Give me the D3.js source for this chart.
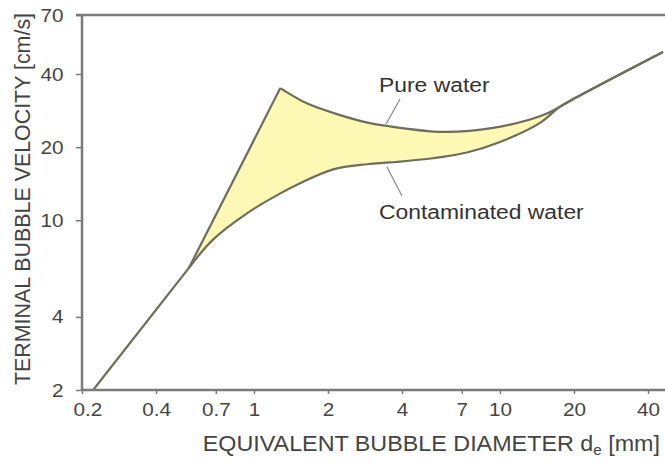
<!DOCTYPE html>
<html>
<head>
<meta charset="utf-8">
<script src="https://cdn.jsdelivr.net/npm/d3@7"></script>
<style>
  body { margin: 0; background: #fff; }
  text { font-family: "Liberation Sans", Arial, sans-serif; }
</style>
</head>
<body>
<script>
// tick values
const xTicks = [0.2, 0.4, 0.7, 1, 2, 4, 7, 10, 20, 40];
const yTicks = [2, 4, 10, 20, 40, 70];

// pure water curve (diameter mm, velocity cm/s), peak at index 2
const pureD = [0.222, 0.544, 1.28, 1.64, 2.24, 2.96, 3.41, 5.86, 9.38, 15.0, 20.6, 46.0];
const pureV = [2.0, 6.36, 35.0, 30.3, 27.1, 25.1, 24.5, 23.1, 24.0, 27.1, 32.2, 49.3];

// contaminated water curve
const contD = [0.222, 0.544, 0.68, 0.94, 1.28, 1.54, 2.10, 2.88, 3.58, 5.34, 7.34, 10.0, 14.5, 17.5, 20.6, 46.0];
const contV = [2.0, 6.36, 8.3, 10.7, 12.9, 14.2, 16.2, 17.0, 17.3, 18.0, 19.0, 21.0, 25.1, 29.3, 32.2, 49.3];

const width = 665;
const height = 465;
const mLeft = 82, mTop = 15, mBottom = 390, mRight = 665;
const sx = 1.09; // the original text is a little wide

const svg = d3.select('body')
  .append('svg')
  .attr('width', width)
  .attr('height', height);

const x = d3.scaleLog()
  .domain([0.2, 0.2 * Math.pow(10, (mRight - mLeft) / 246)])
  .range([mLeft, mRight]);

const y = d3.scaleLog()
  .domain([2, 70])
  .range([mBottom, mTop]);

const pure = pureD.map((d, i) => [x(d), y(pureV[i])]);
const cont = contD.map((d, i) => [x(d), y(contV[i])]);

// split at index 1, merge at second last point
const split = 1;
const mergeP = pure.length - 2;
const mergeC = cont.length - 2;

const smooth = d3.line().curve(d3.curveCatmullRom.alpha(0.5));
const straight = d3.line();

// yellow band between the curves
const upperPart = straight(pure.slice(split, 3)) + 'L' + smooth(pure.slice(2, mergeP + 1)).slice(1);
const lowerRev = smooth(cont.slice(split, mergeC + 1).reverse());

svg.append('path')
  .attr('d', upperPart + 'L' + lowerRev.slice(1) + 'Z')
  .attr('fill', '#fdf8b4')
  .attr('stroke', 'none');

// curve lines
const lineColor = '#6e6e5e';
svg.append('path')
  .attr('d', straight(pure.slice(0, 3)))
  .attr('fill', 'none').attr('stroke', lineColor).attr('stroke-width', 2.2);
svg.append('path')
  .attr('d', smooth(pure.slice(2)))
  .attr('fill', 'none').attr('stroke', lineColor).attr('stroke-width', 2.2);
svg.append('path')
  .attr('d', smooth(cont.slice(split)))
  .attr('fill', 'none').attr('stroke', lineColor).attr('stroke-width', 2.2);

// axes
const axisColor = '#7a7a7a';
const gy = svg.append('g')
  .attr('transform', `translate(${mLeft},0)`)
  .call(d3.axisLeft(y).tickValues(yTicks).tickFormat(d => d).tickSize(6).tickPadding(11));
const gx = svg.append('g')
  .attr('transform', `translate(0,${mBottom})`)
  .call(d3.axisBottom(x).tickValues(xTicks).tickFormat(d => d).tickSize(4).tickPadding(9));

[gx, gy].forEach(g => {
  g.select('.domain').attr('stroke', axisColor).attr('stroke-width', 2.5);
  g.selectAll('.tick line').attr('stroke', axisColor).attr('stroke-width', 1.5);
  g.selectAll('.tick text')
    .attr('fill', '#444')
    .attr('transform', `scale(${sx},1)`)
    .style('font-size', '19px');
});
gx.select('.domain').attr('d', `M${mLeft},0H${mRight}`);
gy.select('.domain').attr('d', `M0,${mBottom}V${mTop}`);
gx.selectAll('.tick text').filter(d => d === 0.2).attr('dx', 5);

// top frame line
svg.append('line')
  .attr('x1', mLeft - 6).attr('x2', mRight)
  .attr('y1', mTop).attr('y2', mTop)
  .attr('stroke', axisColor).attr('stroke-width', 2.5);

// axis titles
svg.append('text')
  .attr('transform', `translate(30,199) rotate(-90)`)
  .attr('text-anchor', 'middle')
  .attr('fill', '#444')
  .style('font-size', '21.4px')
  .text('TERMINAL BUBBLE VELOCITY [cm/s]');

const xt = svg.append('text')
  .attr('transform', `translate(660,451) scale(${sx},1)`)
  .attr('text-anchor', 'end')
  .attr('fill', '#444')
  .style('font-size', '21.4px');
xt.append('tspan').text('EQUIVALENT BUBBLE DIAMETER d');
xt.append('tspan').attr('dy', 4).style('font-size', '14px').text('e');
xt.append('tspan').attr('dy', -4).text(' [mm]');

// labels with leader lines
svg.append('text')
  .attr('transform', `translate(379,92) scale(${sx},1)`)
  .attr('fill', '#333').style('font-size', '21px')
  .text('Pure water');
svg.append('line')
  .attr('x1', 400).attr('y1', 99).attr('x2', 385).attr('y2', 126)
  .attr('stroke', '#888').attr('stroke-width', 1.2);

svg.append('text')
  .attr('transform', `translate(379,219) scale(${sx},1)`)
  .attr('fill', '#333').style('font-size', '21px')
  .text('Contaminated water');
svg.append('line')
  .attr('x1', 387).attr('y1', 167).attr('x2', 402).attr('y2', 196)
  .attr('stroke', '#888').attr('stroke-width', 1.2);
</script>
</body>
</html>
